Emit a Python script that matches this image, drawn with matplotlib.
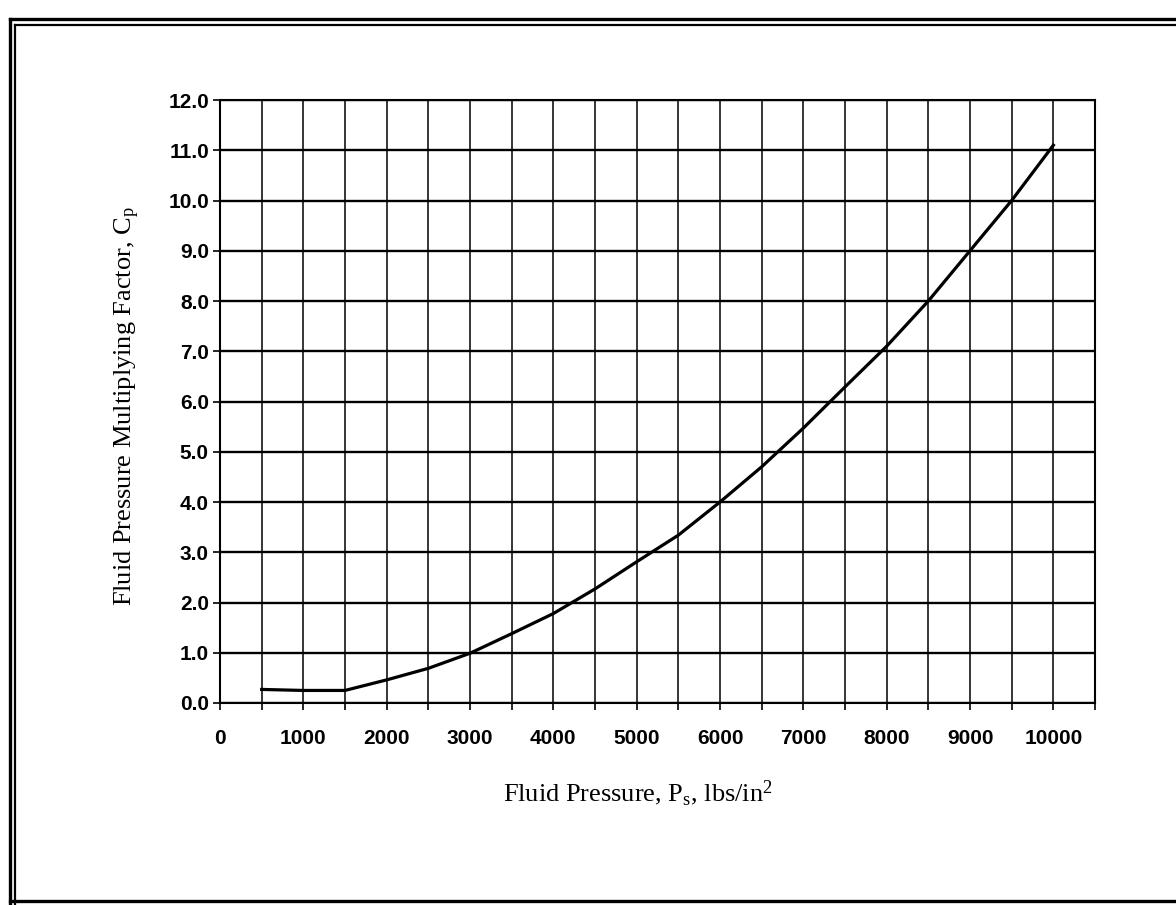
import matplotlib.pyplot as plt
from matplotlib.lines import Line2D
from matplotlib.ticker import MultipleLocator, FormatStrFormatter

# Fluid pressure (psi) and multiplying factor
pressure = [500, 1000, 1500, 2000, 2500, 3000, 3500, 4000, 4500, 5000,
            5500, 6000, 6500, 7000, 7500, 8000, 8500, 9000, 9500, 10000]
factor = [0.27, 0.25, 0.25, 0.46, 0.69, 0.99, 1.38, 1.78, 2.27, 2.81,
          3.34, 4.00, 4.70, 5.47, 6.29, 7.10, 8.00, 9.00, 10.00, 11.10]

plt.rcParams['mathtext.fontset'] = 'custom'
plt.rcParams['mathtext.rm'] = 'Liberation Serif'
plt.rcParams['mathtext.it'] = 'Liberation Serif'

fig = plt.figure(figsize=(11.76, 9.05), dpi=100)
ax = fig.add_axes([220 / 1176, 1 - 703 / 905, 875 / 1176, 603 / 905])

ax.plot(pressure, factor, color='black', linewidth=2.3, solid_joinstyle='round')

ax.set_xlim(0, 10500)
ax.set_ylim(0, 12)
ax.xaxis.set_major_locator(MultipleLocator(1000))
ax.xaxis.set_minor_locator(MultipleLocator(500))
ax.yaxis.set_major_locator(MultipleLocator(1))
ax.yaxis.set_major_formatter(FormatStrFormatter('%.1f'))

ax.grid(True, which='both', axis='x', color='black', linewidth=1.1)
ax.grid(True, which='major', axis='y', color='black', linewidth=1.7)
for s in ax.spines.values():
    s.set_linewidth(1.5)

ax.tick_params(axis='both', which='both', direction='out', length=5, width=1.2, color='black')
ax.tick_params(axis='x', which='major', pad=14)
ax.tick_params(axis='y', pad=3)
for lab in ax.get_xticklabels() + ax.get_yticklabels():
    lab.set_fontfamily('Liberation Sans')
    lab.set_fontweight('bold')
    lab.set_fontsize(15)

ax.set_xlabel(r'Fluid Pressure, P$_\mathrm{s}$, lbs/in$^\mathrm{2}$',
              family='Liberation Serif', fontsize=19)
ax.set_ylabel(r'Fluid Pressure Multiplying Factor, C$_\mathrm{p}$',
              family='Liberation Serif', fontsize=19)
ax.xaxis.label.set_va('center')
ax.yaxis.label.set_va('center')
ax.xaxis.set_label_coords(0.478, -0.149)
ax.yaxis.set_label_coords(-0.106, 0.4925)

# scanned page frame
fig.add_artist(Line2D([10 / 1176, 1], [1 - 19 / 905] * 2, transform=fig.transFigure, color='black', lw=2.4))
fig.add_artist(Line2D([15 / 1176, 1], [1 - 25 / 905] * 2, transform=fig.transFigure, color='black', lw=1.6))
fig.add_artist(Line2D([10 / 1176] * 2, [1 - 19 / 905, 0], transform=fig.transFigure, color='black', lw=2.4))
fig.add_artist(Line2D([15 / 1176] * 2, [1 - 25 / 905, 0], transform=fig.transFigure, color='black', lw=1.6))
fig.add_artist(Line2D([10 / 1176, 1], [1 - 901 / 905] * 2, transform=fig.transFigure, color='black', lw=2.4))

fig.savefig('out.png', dpi=100)
